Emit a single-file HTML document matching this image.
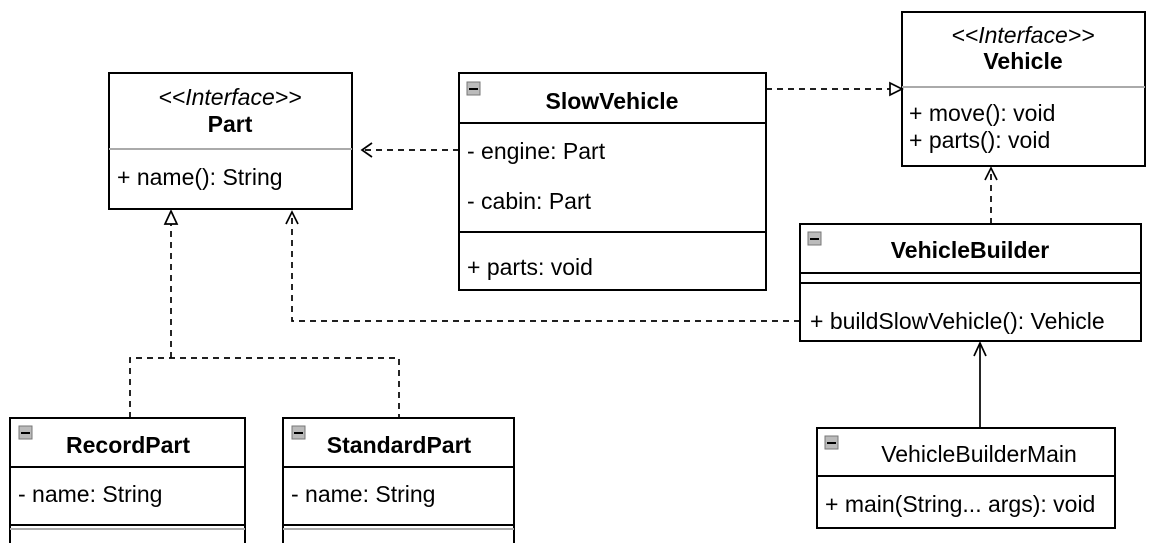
<!DOCTYPE html>
<html><head><meta charset="utf-8"><style>
html,body{margin:0;padding:0;background:#fff;}
svg{display:block;}
text{font-family:"Liberation Sans",Arial,sans-serif;font-size:23px;fill:#000;}
.b{font-weight:bold;}
.i{font-style:italic;}
</style></head><body>
<svg width="1161" height="543" viewBox="0 0 1161 543" xmlns="http://www.w3.org/2000/svg">
<defs>
<g id="ic"><rect x="0" y="0" width="13" height="13" fill="#bbb" stroke="#777" stroke-width="1"/><line x1="2" y1="7" x2="11" y2="7" stroke="#000" stroke-width="2"/></g>
</defs>
<g fill="none" stroke="#000" stroke-width="2">
<rect x="109" y="73" width="243" height="136" fill="#fff"/>
<line x1="109" y1="149" x2="352" y2="149" stroke="#aaa"/>
<rect x="459" y="73" width="307" height="217" fill="#fff"/>
<line x1="459" y1="123" x2="766" y2="123"/>
<line x1="459" y1="232" x2="766" y2="232"/>
<rect x="902" y="12" width="243" height="154" fill="#fff"/>
<line x1="902" y1="87" x2="1145" y2="87" stroke="#aaa"/>
<rect x="800" y="224" width="341" height="117" fill="#fff"/>
<line x1="800" y1="273" x2="1141" y2="273"/>
<line x1="800" y1="283" x2="1141" y2="283"/>
<rect x="817" y="428" width="298" height="100" fill="#fff"/>
<line x1="817" y1="476" x2="1115" y2="476"/>
<path d="M10 543 V418 H245 V543"/>
<line x1="10" y1="467" x2="245" y2="467"/>
<line x1="10" y1="525" x2="245" y2="525"/>
<line x1="10" y1="529" x2="245" y2="529" stroke="#aaa"/>
<path d="M283 543 V418 H514 V543"/>
<line x1="283" y1="467" x2="514" y2="467"/>
<line x1="283" y1="525" x2="514" y2="525"/>
<line x1="283" y1="529" x2="514" y2="529" stroke="#aaa"/>
</g>
<g fill="none" stroke="#000" stroke-width="1.7" stroke-dasharray="6,5">
<line x1="459" y1="150" x2="364" y2="150"/>
<line x1="766" y1="89" x2="890" y2="89"/>
<line x1="991" y1="224" x2="991" y2="170"/>
<path d="M800 321 H292 V213"/>
<path d="M130 418 V358 H399 V418"/>
<line x1="171" y1="358" x2="171" y2="224"/>
</g>
<g fill="none" stroke="#000" stroke-width="1.7">
<path d="M372 143 L362 150 L372 157"/>
<path d="M985 180 L991 168 L997 180"/>
<path d="M286 224 L292 212 L298 224"/>
<path d="M890 83 L902 89 L890 95 Z" fill="#fff"/>
<path d="M165 224 L171 211 L177 224 Z" fill="#fff"/>
<line x1="980" y1="428" x2="980" y2="343"/>
<path d="M974 356 L980 343 L986 356"/>
</g>
<use href="#ic" x="467" y="82"/>
<use href="#ic" x="808" y="232"/>
<use href="#ic" x="825" y="436"/>
<use href="#ic" x="19" y="426"/>
<use href="#ic" x="292" y="426"/>
<text x="230" y="105" text-anchor="middle" class="i">&lt;&lt;Interface&gt;&gt;</text>
<text x="230" y="132" text-anchor="middle" class="b">Part</text>
<text x="117" y="185">+ name(): String</text>
<text x="612" y="109" text-anchor="middle" class="b">SlowVehicle</text>
<text x="467" y="159">- engine: Part</text>
<text x="467" y="209">- cabin: Part</text>
<text x="467" y="275">+ parts: void</text>
<text x="1023" y="43" text-anchor="middle" class="i">&lt;&lt;Interface&gt;&gt;</text>
<text x="1023" y="69" text-anchor="middle" class="b">Vehicle</text>
<text x="909" y="121">+ move(): void</text>
<text x="909" y="148">+ parts(): void</text>
<text x="970" y="258" text-anchor="middle" class="b">VehicleBuilder</text>
<text x="810" y="329">+ buildSlowVehicle(): Vehicle</text>
<text x="979" y="462" text-anchor="middle">VehicleBuilderMain</text>
<text x="825" y="512">+ main(String... args): void</text>
<text x="128" y="453" text-anchor="middle" class="b">RecordPart</text>
<text x="18" y="502">- name: String</text>
<text x="399" y="453" text-anchor="middle" class="b">StandardPart</text>
<text x="291" y="502">- name: String</text>
</svg>
</body></html>
